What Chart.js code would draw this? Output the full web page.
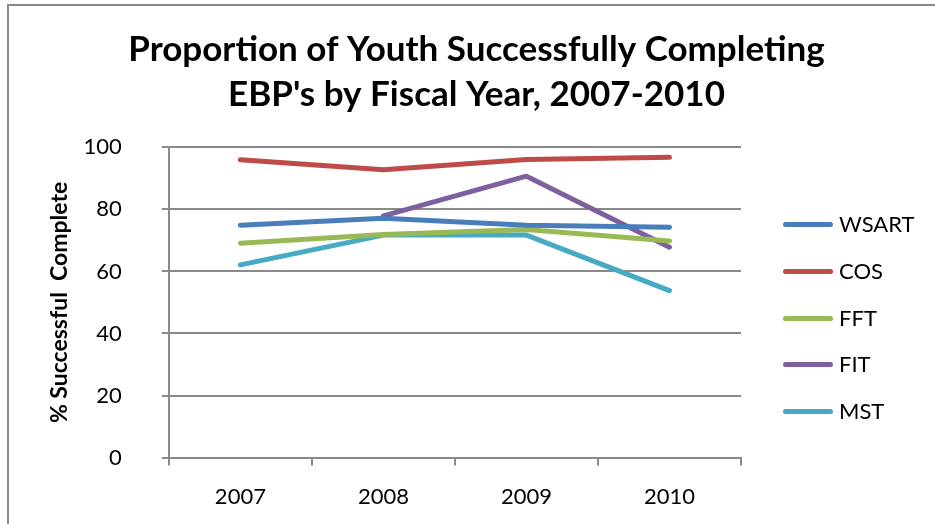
<!DOCTYPE html>
<html>
<head>
<meta charset="utf-8">
<script src="https://cdn.jsdelivr.net/npm/chart.js@4/dist/chart.umd.min.js"></script>
<style>
  html, body { margin: 0; padding: 0; background: #fff; }
  #frame {
    position: absolute; left: 7px; top: 4px; width: 928px; height: 520px;
    border-left: 2px solid #8a8a8a; border-top: 2px solid #8a8a8a;
    box-sizing: border-box;
  }
  #wrap { position: absolute; left: 0; top: 0; width: 935px; height: 524px; }
  #legend {
    position: absolute; left: 780px; top: 208px; margin: 0; padding: 0;
    list-style: none; font-family: Lato, "Open Sans", sans-serif; font-size: 22px; color: #000;
  }
  #legend li { height: 46.8px; display: flex; align-items: flex-start; }
  #legend .sw { width: 50px; height: 5px; border-radius: 3px; margin: 14px 6px 0 3px; }
  #legend span.t { line-height: 32px; }
</style>
</head>
<body>
<div id="frame"></div>
<div id="wrap"><canvas id="myChart"></canvas></div>
<ul id="legend"></ul>
<script>
  "use strict";

  // fiscal years
  const years = ["2007", "2008", "2009", "2010"];

  // % successful complete per program
  const wsart = [74.9, 77.1, 74.9, 74.2];
  const cos = [96.0, 92.8, 96.1, 96.8];
  const fft = [69.1, 71.9, 73.5, 69.8];
  const fit = [null, 77.9, 90.7, 67.8];
  const mst = [62.1, 71.7, 71.7, 53.8];

  const yTicks = [0, 20, 40, 60, 80, 100];

  const font = "Lato, 'Open Sans', sans-serif";

  function series(label, data, color) {
    return {
      label: label,
      data: data,
      borderColor: color,
      backgroundColor: color,
      borderWidth: 5,
      borderCapStyle: "round",
      borderJoinStyle: "round",
      pointRadius: 0,
      tension: 0,
      fill: false,
    };
  }

  // html legend built from the chart's own legend items
  const htmlLegend = {
    id: "htmlLegend",
    afterUpdate(chart) {
      const ul = document.getElementById("legend");
      ul.innerHTML = "";
      chart.options.plugins.legend.labels.generateLabels(chart).forEach((item) => {
        const li = document.createElement("li");
        const sw = document.createElement("span");
        sw.className = "sw";
        sw.style.background = item.strokeStyle;
        const t = document.createElement("span");
        t.className = "t";
        t.textContent = item.text;
        li.appendChild(sw);
        li.appendChild(t);
        ul.appendChild(li);
      });
    },
  };

  const ctx = document.getElementById("myChart").getContext("2d");
  new Chart(ctx, {
    type: "line",
    data: {
      labels: years,
      datasets: [
        series("WSART", wsart, "#4a7ebb"),
        series("COS", cos, "#be4b48"),
        series("FFT", fft, "#98b954"),
        series("FIT", fit, "#7d60a0"),
        series("MST", mst, "#46aac5"),
      ],
    },
    plugins: [htmlLegend],
    options: {
      responsive: true,
      maintainAspectRatio: false,
      animation: false,
      layout: { padding: { left: 18, right: 0, top: 27, bottom: -4 } },
      plugins: {
        title: {
          display: true,
          text: ["Proportion of Youth Successfully Completing", "EBP's by Fiscal Year, 2007-2010"],
          color: "#000",
          font: { family: font, size: 35, weight: "bold", lineHeight: 1.29 },
          padding: { top: 0, bottom: 30 },
        },
        legend: { display: false },
        tooltip: { enabled: false },
      },
      scales: {
        x: {
          offset: true,
          grid: {
            offset: true,
            drawOnChartArea: false,
            drawTicks: true,
            tickLength: 8,
            color: "#8a8a8a",
            lineWidth: 2,
          },
          border: { color: "#8a8a8a", width: 2 },
          ticks: {
            color: "#000",
            font: { family: font, size: 22 },
            padding: 18,
          },
        },
        y: {
          min: 0,
          max: 100,
          afterBuildTicks: (axis) => {
            axis.ticks = yTicks.map((v) => ({ value: v }));
          },
          grid: { color: "#8a8a8a", lineWidth: 2, tickLength: 7 },
          border: { color: "#8a8a8a", width: 2 },
          ticks: {
            color: "#000",
            font: { family: font, size: 22 },
            padding: 40,
          },
          title: {
            display: true,
            text: "% Successful  Complete",
            color: "#000",
            font: { family: font, size: 23, weight: "bold" },
            padding: { top: 28, bottom: -30 },
          },
        },
        // empty space on the right where the legend sits
        legendSpace: {
          position: "right",
          display: true,
          grid: { display: false },
          border: { display: false },
          ticks: { display: false },
          afterFit: (scale) => {
            scale.width = 194;
          },
        },
      },
    },
  });
</script>
</body>
</html>
